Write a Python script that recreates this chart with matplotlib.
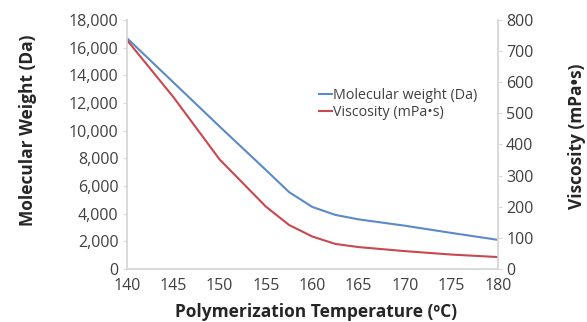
import matplotlib
matplotlib.use('Agg')
import matplotlib.pyplot as plt
from matplotlib import rcParams

rcParams['font.family'] = ['Open Sans', 'DejaVu Sans']

# Data
temperature = [140, 145, 150, 155, 157.5, 160, 162.5, 165, 170, 175, 180]
mol_weight = [16700, 13500, 10300, 7150, 5550, 4480, 3900, 3580, 3120, 2600, 2100]
viscosity = [736, 553, 352, 200, 141, 104, 80, 70, 57, 46, 38]

x_ticks = [140, 145, 150, 155, 160, 165, 170, 175, 180]
left_ticks = list(range(0, 18001, 2000))
right_ticks = list(range(0, 801, 100))

blue = '#5b8ac6'
red = '#c9474f'
text_col = '#404040'
axis_col = '#d9d9d9'

fig = plt.figure(figsize=(5.87, 3.22), dpi=100)
ax = fig.add_axes([0.216, 0.165, 0.632, 0.773])
ax2 = ax.twinx()

l1, = ax.plot(temperature, mol_weight, color=blue, lw=1.5, label='Molecular weight (Da)')
l2, = ax2.plot(temperature, viscosity, color=red, lw=1.5, label='Viscosity (mPa•s)')

ax.set_xlim(140, 180)
ax.set_ylim(0, 18000)
ax2.set_ylim(0, 800)
ax.set_xticks(x_ticks)
ax.set_yticks(left_ticks)
ax.set_yticklabels([f'{v:,}' for v in left_ticks])
ax2.set_yticks(right_ticks)

for a in (ax, ax2):
    a.spines['top'].set_visible(False)
    for s in ('left', 'right', 'bottom'):
        a.spines[s].set_color(axis_col)
        a.spines[s].set_linewidth(1.2)
    a.tick_params(colors=axis_col, labelcolor=text_col, labelsize=11.5, length=3, width=0.8)
ax.tick_params(axis='x', length=0, pad=6.5)
ax.tick_params(axis='y', pad=3)
ax2.tick_params(axis='y', pad=3)

lab = dict(fontsize=12.5, fontweight='bold', color='#262626')
ax.set_xlabel('Polymerization Temperature (ºC)', **lab)
ax.set_ylabel('Molecular Weight (Da)', **lab)
ax2.set_ylabel('Viscosity (mPa•s)', **lab)
ax.xaxis.set_label_coords(0.51, -0.175)
ax.yaxis.set_label_coords(-0.265, 0.558)
ax2.yaxis.set_label_coords(1.213, 0.534)
ax.xaxis.label.set_va('center')
ax.yaxis.label.set_va('center')
ax2.yaxis.label.set_va('center')

leg = ax.legend(handles=[l1, l2], loc='upper left', bbox_to_anchor=(0.5, 0.755), frameon=False,
                fontsize=10.3, handlelength=0.9, handletextpad=0.05, labelspacing=0.1, borderpad=0)
for t in leg.get_texts():
    t.set_color(text_col)

fig.savefig('out.png', dpi=100)
